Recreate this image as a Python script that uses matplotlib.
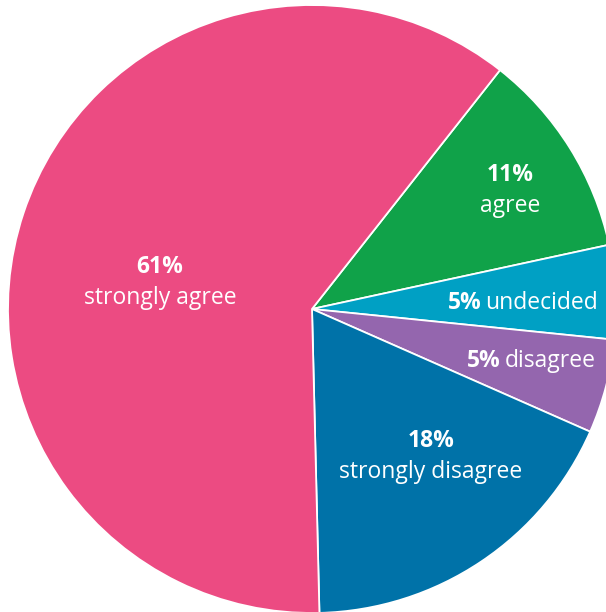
import matplotlib
matplotlib.use("Agg")
import matplotlib.pyplot as plt
from matplotlib.offsetbox import TextArea, HPacker, AnnotationBbox

categories = ["agree", "undecided", "disagree", "strongly disagree", "strongly agree"]
values = [11, 5, 5, 18, 61]
colors = ["#10A249", "#00A0C4", "#9466AE", "#0072A8", "#EC4B82"]

plt.rcParams['font.family'] = ['Open Sans', 'DejaVu Sans']

W, H = 606, 612
fig = plt.figure(figsize=(W / 100, H / 100), dpi=100)
ax = fig.add_axes([0, 0, 1, 1])

cx, cy, R = 312, 309, 304  # pixel centre (from top) and radius
ax.pie(values, colors=colors, startangle=51.8, counterclock=False, radius=1,
       wedgeprops=dict(edgecolor="white", linewidth=1.3))
ax.set_aspect('auto')
ax.set_xlim(-cx / R, (W - cx) / R)
ax.set_ylim(-(H - cy) / R, cy / R)
ax.axis('off')


def d(px, py):
    return (px - cx) / R, (cy - py) / R


fs = 16.5
# two-line labels
two_line = [
    ("61%", "strongly agree", 160, 267, 298),
    ("11%", "agree", 510, 175, 206),
    ("18%", "strongly disagree", 431, 441, 472),
]
for pct, name, px, py1, py2 in two_line:
    ax.text(*d(px, py1), pct, color="white", fontsize=fs, fontweight="bold",
            ha="center", va="center")
    ax.text(*d(px, py2), name, color="white", fontsize=fs,
            ha="center", va="center")

one_line = [
    ("5%", "undecided", 523, 303),
    ("5%", "disagree", 531, 361),
]
for pct, name, px, py in one_line:
    box = HPacker(children=[
        TextArea(pct, textprops=dict(color="white", fontsize=fs, fontweight="bold")),
        TextArea(name, textprops=dict(color="white", fontsize=fs)),
    ], align="baseline", pad=0, sep=3)
    ab = AnnotationBbox(box, d(px, py), frameon=False, box_alignment=(0.5, 0.5))
    ax.add_artist(ab)

fig.savefig("out.png", dpi=100)
